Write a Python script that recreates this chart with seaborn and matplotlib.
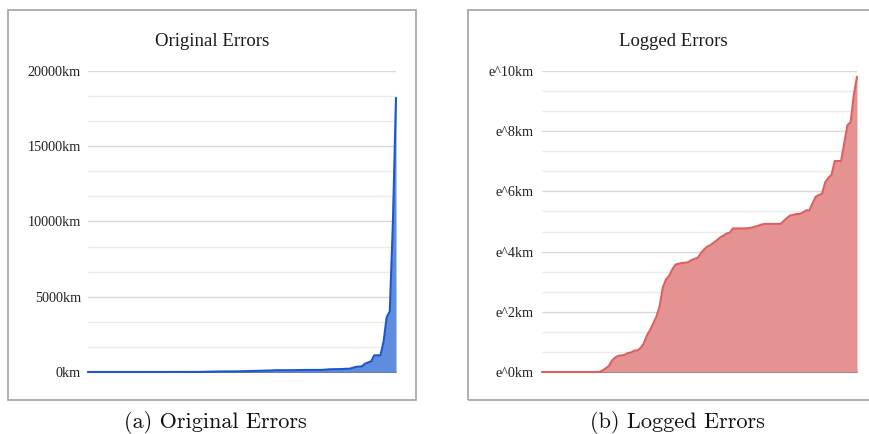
import numpy as np
import pandas as pd
import matplotlib
matplotlib.use("Agg")
import matplotlib.pyplot as plt
import seaborn as sns
from matplotlib.patches import Rectangle
from matplotlib.ticker import FixedLocator, MultipleLocator

# ---- data, sorted errors per sample ----
logged_errors = [
    0, 0, 0, 0, 0, 0, 0, 0, 0, 0,
    0, 0, 0, 0, 0, 0, 0, 0, 0, 0.05,
    0.12, 0.2, 0.38, 0.48, 0.54, 0.55, 0.57, 0.63, 0.65, 0.71,
    0.72, 0.8, 0.95, 1.22, 1.4, 1.62, 1.85, 2.2, 2.82, 3.08,
    3.2, 3.42, 3.57, 3.6, 3.62, 3.63, 3.65, 3.72, 3.76, 3.8,
    3.96, 4.08, 4.17, 4.22, 4.3, 4.38, 4.47, 4.53, 4.6, 4.63,
    4.77, 4.77, 4.77, 4.77, 4.77, 4.78, 4.8, 4.83, 4.86, 4.9,
    4.92, 4.92, 4.92, 4.92, 4.92, 4.92, 5.02, 5.12, 5.2, 5.22,
    5.25, 5.25, 5.3, 5.37, 5.37, 5.6, 5.82, 5.88, 5.92, 6.3,
    6.45, 6.55, 7.01, 7.01, 7.01, 7.6, 8.2, 8.3, 9.2, 9.81,
]
original_errors_km = [
    1, 1, 1, 1, 1, 1, 1, 1, 1, 1,
    1, 1, 1, 1, 1, 1, 1, 1, 1, 1.05,
    1.13, 1.22, 1.46, 1.62, 1.72, 1.73, 1.77, 1.88, 1.92, 2.03,
    2.05, 2.23, 2.59, 3.39, 4.06, 5.05, 6.36, 9.03, 16.8, 21.8,
    24.5, 30.6, 35.5, 36.6, 37.3, 37.7, 38.5, 41.3, 42.9, 44.7,
    52.5, 59.1, 64.7, 68.0, 73.7, 79.8, 87.4, 92.8, 99.5, 102.5,
    117.9, 117.9, 117.9, 117.9, 117.9, 119.1, 121.5, 125.2, 129.0, 134.3,
    137.0, 137.0, 137.0, 137.0, 137.0, 137.0, 151.4, 167.3, 181.3, 184.9,
    190.6, 190.6, 200.3, 214.9, 214.9, 270.4, 337.0, 357.8, 372.4, 544.6,
    632.7, 699.2, 1107.9, 1107.9, 1107.9, 1998.2, 3641, 4024, 9897, 18214,
]
left_ticks = [0, 5000, 10000, 15000, 20000]
left_labels = ["0km", "5000km", "10000km", "15000km", "20000km"]
right_ticks = [0, 2, 4, 6, 8, 10]
right_labels = ["e^0km", "e^2km", "e^4km", "e^6km", "e^8km", "e^10km"]
titles = ["Original Errors", "Logged Errors"]
captions = ["(a) Original Errors", "(b) Logged Errors"]

sns.set_theme(style="white")
plt.rcParams["font.family"] = ["Liberation Serif", "DejaVu Serif"]

W, H = 869, 434
fig = plt.figure(figsize=(W / 100, H / 100), dpi=100)


def fx(px):
    return px / W


def fy(py):
    return 1 - py / H


# boxes around each chart
for x0, x1 in [(8, 416), (468, 880)]:
    fig.patches.append(Rectangle((fx(x0), fy(400)), fx(x1 - x0), (400 - 10) / H,
                                 transform=fig.transFigure, fill=False,
                                 edgecolor="#a8a8a8", lw=1.3))

ax1 = fig.add_axes([fx(88), fy(372), fx(396 - 88), (372 - 71) / H])
ax2 = fig.add_axes([fx(542), fy(372), fx(857 - 542), (372 - 71) / H])

df = pd.DataFrame({
    "idx": np.arange(len(logged_errors)),
    "orig": original_errors_km,
    "log": logged_errors,
})

specs = [
    (ax1, "orig", "#1c55cc", "#5f8ddd", left_ticks, left_labels, 20000, 7),
    (ax2, "log", "#de5f5f", "#e59292", right_ticks, right_labels, 10, 8),
]
for ax, col, lc, fc, ticks, labels, top, pad in specs:
    ax.axhline(0, color="#555555", lw=1.2, zorder=1.5)
    ax.fill_between(df["idx"], df[col], color=fc, lw=0, zorder=2)
    sns.lineplot(data=df, x="idx", y=col, ax=ax, color=lc, lw=1.5, zorder=3)
    ax.set_xlim(0, len(df) - 1)
    ax.set_ylim(0, top)
    ax.yaxis.set_major_locator(FixedLocator(ticks))
    ax.set_yticklabels(labels)
    ax.yaxis.set_minor_locator(MultipleLocator((ticks[1] - ticks[0]) / 3))
    ax.grid(which="major", axis="y", color="#d9d9d9", lw=1.0, zorder=0)
    ax.grid(which="minor", axis="y", color="#ebebeb", lw=1.0, zorder=0)
    ax.grid(axis="x", visible=False)
    ax.tick_params(axis="y", which="both", length=0, pad=pad * 0.72,
                   labelsize=10.2, labelcolor="#222222")
    ax.set_xticks([])
    ax.set_xlabel("")
    ax.set_ylabel("")
    for s in ax.spines.values():
        s.set_visible(False)
    ax.set_facecolor("none")
    for ln in ax.lines:
        ln.set_clip_on(False)

fig.text(fx(212), fy(41), titles[0], ha="center", va="center",
         fontsize=13.5, color="#1a1a1a")
fig.text(fx(673), fy(41), titles[1], ha="center", va="center",
         fontsize=13.5, color="#1a1a1a")
fig.text(fx(215), fy(423), captions[0], ha="center", va="center",
         fontsize=16, family="cmr10", color="#111111")
fig.text(fx(677), fy(423), captions[1], ha="center", va="center",
         fontsize=16, family="cmr10", color="#111111")

fig.savefig("out.png", dpi=100)
